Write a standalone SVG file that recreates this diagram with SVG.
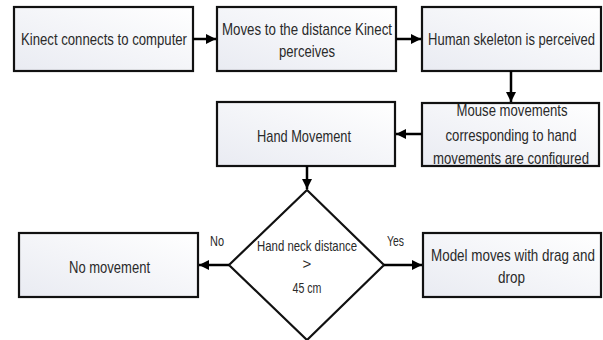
<svg xmlns="http://www.w3.org/2000/svg" width="603" height="340" viewBox="0 0 603 340">
<defs>
<linearGradient id="g" x1="1" y1="0" x2="0" y2="1">
<stop offset="0" stop-color="#ffffff"/>
<stop offset="1" stop-color="#e9ebf2"/>
</linearGradient>
<marker id="ah" viewBox="0 0 10 10" refX="10" refY="5" markerWidth="4" markerHeight="4" orient="auto" markerUnits="strokeWidth">
<path d="M0,0 L10,5 L0,10 z" fill="#000"/>
</marker>
<style>
.box{fill:url(#g);stroke:#111;stroke-width:2.2}
.dia{fill:#fff;stroke:#111;stroke-width:2.2}
text{font-family:"Liberation Sans",Arial,sans-serif;font-size:17px;fill:#2a2a2a;text-anchor:middle}
.sm{font-size:15px}
.con{stroke:#000;stroke-width:2.5;fill:none;marker-end:url(#ah)}
</style>
</defs>
<rect width="603" height="340" fill="#fff"/>
<g id="n1"><rect class="box" x="14" y="7" width="179" height="64"/><text x="104" y="45" textLength="166" lengthAdjust="spacingAndGlyphs">Kinect connects to computer</text></g>
<g id="n2"><rect class="box" x="217" y="7" width="179" height="64"/><text x="307" y="35" textLength="170" lengthAdjust="spacingAndGlyphs">Moves to the distance Kinect</text><text x="307" y="57" textLength="56" lengthAdjust="spacingAndGlyphs">perceives</text></g>
<g id="n3"><rect class="box" x="422" y="7" width="179" height="64"/><text x="511.5" y="45" textLength="167" lengthAdjust="spacingAndGlyphs">Human skeleton is perceived</text></g>
<g id="n4"><rect class="box" x="422" y="103" width="177" height="63"/><text x="512" y="116" textLength="111" lengthAdjust="spacingAndGlyphs">Mouse movements</text><text x="511" y="141" textLength="131" lengthAdjust="spacingAndGlyphs">corresponding to hand</text><text x="511" y="164" textLength="156" lengthAdjust="spacingAndGlyphs">movements are configured</text></g>
<g id="n5"><rect class="box" x="217" y="102" width="178" height="64"/><text x="304" y="142" textLength="94" lengthAdjust="spacingAndGlyphs">Hand Movement</text></g>
<g id="n6"><polygon class="dia" points="307,190 384,265 307,340 229,265"/><text class="sm" x="307" y="251" textLength="100" lengthAdjust="spacingAndGlyphs">Hand neck distance</text><text class="sm" x="307" y="269">&gt;</text><text class="sm" x="307" y="293" textLength="29" lengthAdjust="spacingAndGlyphs">45 cm</text></g>
<g id="n7"><rect class="box" x="19" y="233" width="179" height="64"/><text x="109.5" y="273" textLength="81" lengthAdjust="spacingAndGlyphs">No movement</text></g>
<g id="n8"><rect class="box" x="423" y="233" width="178" height="64"/><text x="513" y="261" textLength="164" lengthAdjust="spacingAndGlyphs">Model moves with drag and</text><text x="511.5" y="283" textLength="27" lengthAdjust="spacingAndGlyphs">drop</text></g>
<g id="connectors">
<line class="con" x1="193" y1="39" x2="216" y2="39"/>
<line class="con" x1="396" y1="39" x2="421" y2="39"/>
<line class="con" x1="511" y1="71" x2="511" y2="102"/>
<line class="con" x1="422" y1="134" x2="396" y2="134"/>
<line class="con" x1="307" y1="166" x2="307" y2="189"/>
<line class="con" x1="229" y1="265" x2="199" y2="265"/>
<line class="con" x1="384" y1="265" x2="422" y2="265"/>
<text class="sm" x="217" y="246" textLength="14" lengthAdjust="spacingAndGlyphs">No</text>
<text class="sm" x="395.5" y="246" textLength="17" lengthAdjust="spacingAndGlyphs">Yes</text>
</g>
</svg>
